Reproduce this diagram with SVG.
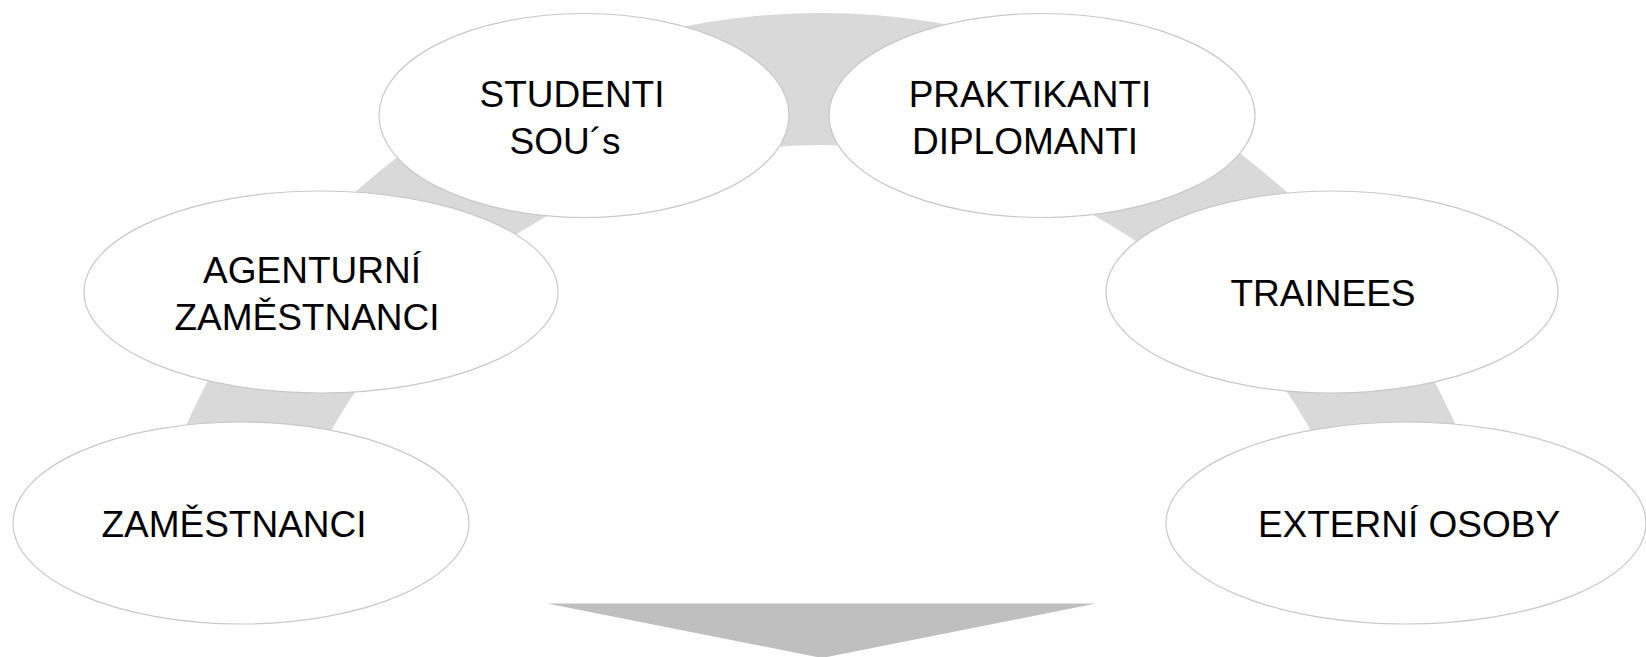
<svg xmlns="http://www.w3.org/2000/svg" width="1646" height="657" viewBox="0 0 1646 657">
<style>
.node ellipse{fill:#ffffff;stroke:#c8c8c8;stroke-width:1.2}
.node text{font-family:"Liberation Sans",Arial,sans-serif;font-size:37px;fill:#000000;text-anchor:middle}
</style>
<rect width="1646" height="657" fill="#ffffff"/>
<g id="connectors">
<path id="ring" d="M151.9 520 A695 695 0 0 1 1490.1 520 L1351.7 520 A563 563 0 0 0 290.3 520 Z" fill="#d9d9d9"/>
<polygon id="down-arrow" points="547,603.5 1096,603.5 822,658" fill="#bfbfbf"/>
</g>
<g id="node-zamestnanci" class="node">
<ellipse cx="241" cy="523" rx="228" ry="101"/>
<text x="234" y="537">ZAMĚSTNANCI</text>
</g>
<g id="node-agenturni" class="node">
<ellipse cx="321" cy="292" rx="237" ry="101"/>
<text x="312" y="283">AGENTURNÍ</text>
<text x="307" y="330">ZAMĚSTNANCI</text>
</g>
<g id="node-studenti" class="node">
<ellipse cx="584" cy="115.5" rx="205" ry="102"/>
<text x="572" y="107">STUDENTI</text>
<text x="565" y="154">SOU´s</text>
</g>
<g id="node-praktikanti" class="node">
<ellipse cx="1042" cy="115.5" rx="213" ry="102"/>
<text x="1030" y="107">PRAKTIKANTI</text>
<text x="1025" y="154">DIPLOMANTI</text>
</g>
<g id="node-trainees" class="node">
<ellipse cx="1332" cy="292" rx="226" ry="101"/>
<text x="1323" y="306">TRAINEES</text>
</g>
<g id="node-externi" class="node">
<ellipse cx="1406" cy="523" rx="240" ry="101"/>
<text x="1409" y="537">EXTERNÍ OSOBY</text>
</g>
</svg>
